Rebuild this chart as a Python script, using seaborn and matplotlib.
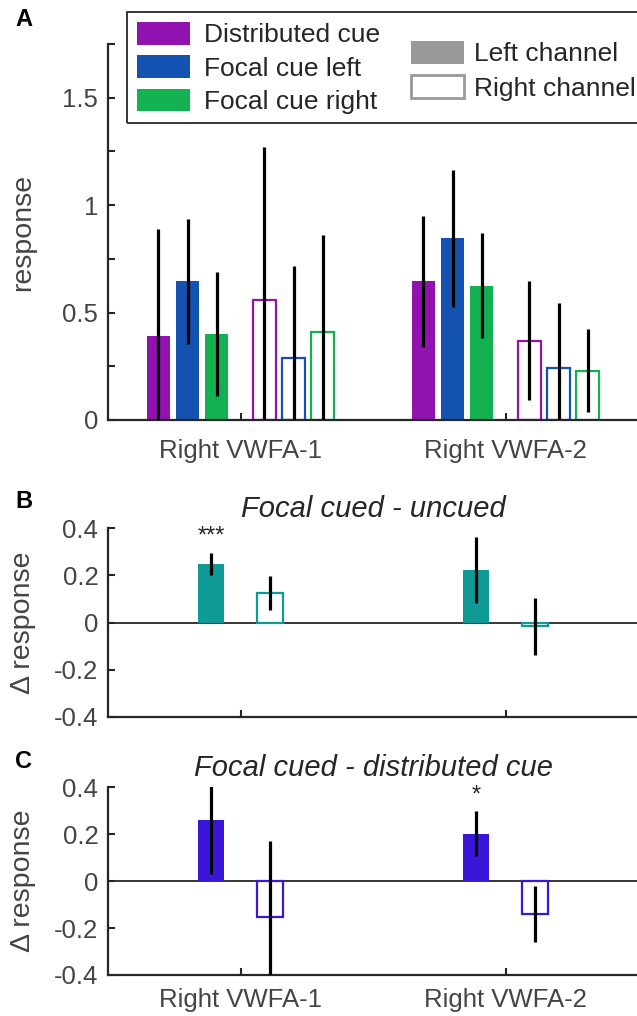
import numpy as np
import pandas as pd
import matplotlib
matplotlib.use("Agg")
import matplotlib.pyplot as plt
from matplotlib.patches import Patch, Rectangle
import seaborn as sns

# ---------------- data ----------------
rois = ["Right VWFA-1", "Right VWFA-2"]
cues = ["Distributed cue", "Focal cue left", "Focal cue right"]
channels = ["Left channel", "Right channel"]
cue_colors = ["#9013B0", "#1352B1", "#13B152"]

# Panel A: response, rows = ROI, columns = cue
left_resp = [[0.39, 0.645, 0.40], [0.645, 0.845, 0.625]]
left_err = [[0.50, 0.29, 0.29], [0.305, 0.32, 0.245]]
right_resp = [[0.56, 0.287, 0.41], [0.37, 0.244, 0.23]]
right_err = [[0.71, 0.43, 0.45], [0.275, 0.30, 0.195]]

# Panel B: focal cued - uncued
uncued_title = "Focal cued - uncued"
uncued_left = [0.248, 0.222]
uncued_left_err = [0.048, 0.14]
uncued_right = [0.126, -0.016]
uncued_right_err = [0.071, 0.122]
uncued_sig = ["***", ""]
uncued_color = "#109A96"

# Panel C: focal cued - distributed cue
dist_title = "Focal cued - distributed cue"
dist_left = [0.259, 0.202]
dist_left_err = [0.23, 0.095]
dist_right = [-0.153, -0.139]
dist_right_err = [0.326, 0.119]
dist_sig = ["", "*"]
dist_color = "#3B16D9"

# ---------------- style ----------------
sns.set_style("ticks")
plt.rcParams["font.family"] = ["Liberation Sans", "DejaVu Sans"]
AX_COL = "#262626"
LAB_COL = "#444444"
TICK_FS = 18.5
LAB_FS = 20.5

W, H = 637, 1016
fig = plt.figure(figsize=(W / 100, H / 100), dpi=100)


def rect(left, top, right, bottom):
    return [left / W, 1 - bottom / H, (right - left) / W, (bottom - top) / H]


axA = fig.add_axes(rect(108, 44, 638, 420))
axB = fig.add_axes(rect(108, 528.3, 638, 716.7))
axC = fig.add_axes(rect(108, 787.3, 638, 975))

# ---------------- panel A ----------------
off_left = [-0.31, -0.20, -0.09]
off_right = [0.09, 0.20, 0.31]


def frame_A(resp, offs, suffix):
    rows = []
    for i, roi in enumerate(rois):
        for j, cue in enumerate(cues):
            rows.append({"pos": i + 1 + offs[j], "value": resp[i][j],
                         "key": f"{roi}|{cue}|{suffix}", "cue": j})
    return pd.DataFrame(rows)


dfL = frame_A(left_resp, off_left, "L")
dfR = frame_A(right_resp, off_right, "R")
palL = {k: cue_colors[c] for k, c in zip(dfL["key"], dfL["cue"])}
palR = {k: cue_colors[c] for k, c in zip(dfR["key"], dfR["cue"])}

sns.barplot(data=dfL, x="pos", y="value", hue="key", palette=palL,
            native_scale=True, width=0.8, errorbar=None, legend=False,
            saturation=1, linewidth=0, ax=axA)
sns.barplot(data=dfR, x="pos", y="value", hue="key", palette=palR,
            native_scale=True, width=0.8, errorbar=None, legend=False,
            saturation=1, fill=False, linewidth=1.6, ax=axA)

errL = [e for row in left_err for e in row]
errR = [e for row in right_err for e in row]
axA.errorbar(dfL["pos"], dfL["value"], yerr=errL, fmt="none", ecolor="black",
             elinewidth=2.3, capsize=0, zorder=4)
axA.errorbar(dfR["pos"], dfR["value"], yerr=errR, fmt="none", ecolor="black",
             elinewidth=2.3, capsize=0, zorder=4)

axA.set_xlim(0.5, 2.5)
axA.set_ylim(0, 1.75)
axA.set_yticks(np.arange(0, 1.76, 0.25))
axA.set_yticklabels(["0", "", "0.5", "", "1", "", "1.5", ""])
axA.set_xticks([1, 2])
axA.set_xticklabels(rois)
axA.set_xlabel("")
axA.set_ylabel("response", fontsize=LAB_FS, color=LAB_COL)
axA.yaxis.set_label_coords((36 - 108) / 530, 0.5)

# legend
h1 = [Patch(facecolor=c, edgecolor="none") for c in cue_colors]
leg1 = axA.legend(h1, cues, loc="upper left", bbox_to_anchor=(137 / W, 1 - 22 / H),
                  bbox_transform=fig.transFigure, frameon=False, fontsize=19,
                  handlelength=2.0, handleheight=0.95, handletextpad=0.55,
                  labelspacing=0.3, borderpad=0, borderaxespad=0,
                  labelcolor=AX_COL)
axA.add_artist(leg1)
h2 = [Patch(facecolor="#999999", edgecolor="none"),
      Patch(facecolor="white", edgecolor="#999999", linewidth=2)]
leg2 = axA.legend(h2, channels, loc="upper left", bbox_to_anchor=(411 / W, 1 - 41 / H),
                  bbox_transform=fig.transFigure, frameon=False, fontsize=19,
                  handlelength=2.0, handleheight=0.95, handletextpad=0.4,
                  labelspacing=0.33, borderpad=0, borderaxespad=0,
                  labelcolor=AX_COL)
fig.add_artist(Rectangle((127 / W, 1 - 123 / H), (W - 127 + 20) / W, (123 - 12) / H,
                         transform=fig.transFigure, fill=False, lw=1.3,
                         ec=AX_COL, clip_on=False))


# ---------------- panels B, C ----------------
def diff_panel(ax, title, lv, le, rv, re, sig, color, labels):
    dl = pd.DataFrame({"pos": [i + 1 - 0.11 for i in range(len(rois))],
                       "value": lv, "key": [f"{r}|L" for r in rois]})
    dr = pd.DataFrame({"pos": [i + 1 + 0.11 for i in range(len(rois))],
                       "value": rv, "key": [f"{r}|R" for r in rois]})
    ax.axhline(0, color="black", lw=1.1, zorder=0.5)
    sns.barplot(data=dl, x="pos", y="value", hue="key",
                palette={k: color for k in dl["key"]}, native_scale=True,
                width=0.098, errorbar=None, legend=False, saturation=1,
                linewidth=0, ax=ax)
    sns.barplot(data=dr, x="pos", y="value", hue="key",
                palette={k: color for k in dr["key"]}, native_scale=True,
                width=0.098, errorbar=None, legend=False, saturation=1,
                fill=False, linewidth=1.6, ax=ax)
    ax.errorbar(dl["pos"], dl["value"], yerr=le, fmt="none", ecolor="black",
                elinewidth=2.3, capsize=0, zorder=4)
    ax.errorbar(dr["pos"], dr["value"], yerr=re, fmt="none", ecolor="black",
                elinewidth=2.3, capsize=0, zorder=4)
    for p, s in zip(dl["pos"], sig):
        if s:
            ax.text(p, 0.365, s, ha="center", va="center", fontsize=17,
                    color=AX_COL, clip_on=False)
    ax.set_xlim(0.5, 2.5)
    ax.set_ylim(-0.4, 0.4)
    ticks = [-0.4, -0.2, 0, 0.2, 0.4]
    ax.set_yticks(ticks)
    ax.set_yticklabels(["-0.4", "-0.2", "0", "0.2", "0.4"])
    ax.set_xticks([1, 2])
    ax.set_xticklabels(labels)
    ax.set_xlabel("")
    ax.set_ylabel("\u0394 response", fontsize=LAB_FS, color=LAB_COL)
    ax.yaxis.set_label_coords((36 - 108) / 530, 0.5)
    ax.set_title(title, fontsize=21, style="italic", color=AX_COL, pad=8)


diff_panel(axB, uncued_title, uncued_left, uncued_left_err, uncued_right,
           uncued_right_err, uncued_sig, uncued_color, ["", ""])
diff_panel(axC, dist_title, dist_left, dist_left_err, dist_right,
           dist_right_err, dist_sig, dist_color, rois)

for ax in (axA, axB, axC):
    sns.despine(ax=ax)
    for s in ("left", "bottom"):
        ax.spines[s].set_linewidth(1.6)
        ax.spines[s].set_color(AX_COL)
    ax.tick_params(direction="in", length=5, width=1.5, color=AX_COL,
                   labelcolor=LAB_COL, labelsize=TICK_FS)
    ax.tick_params(axis="y", pad=7)
axA.tick_params(axis="x", pad=14)
axC.tick_params(axis="x", pad=9)

# panel letters
for letter, yc in (("A", 20), ("B", 502), ("C", 762)):
    fig.text(15 / W, 1 - yc / H, letter, fontsize=17, fontweight="bold",
             ha="left", va="center", color="black")

fig.savefig("out.png", dpi=100)
